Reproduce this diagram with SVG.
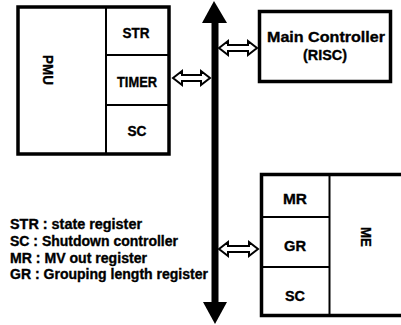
<svg xmlns="http://www.w3.org/2000/svg" width="401" height="325" viewBox="0 0 401 325">
<style>
text{font-family:"Liberation Sans",Arial,sans-serif;font-weight:bold;fill:#000;stroke:#000;stroke-width:0.35}
.box{fill:#fff;stroke:#000;stroke-width:3.5}
.div{stroke:#000;stroke-width:2;fill:none}
.cell{font-size:15px;text-anchor:middle}
.leg{font-size:14px}
.arr{fill:#fff;stroke:#000;stroke-width:2;stroke-linejoin:miter}
</style>
<rect width="401" height="325" fill="#fff"/>
<g id="connectors">
<line x1="215" y1="18" x2="215" y2="306" stroke="#000" stroke-width="7"/>
<polygon points="214,1 202,23 227,23" fill="#000"/>
<polygon points="215,324 203,302 227,302" fill="#000"/>
<polygon class="arr" points="173,78 182,71 182,75 201,75 201,71 210,78 201,85 201,81 182,81 182,85"/>
<polygon class="arr" points="219,48 228,41 228,45 248,45 248,41 257,48 248,55 248,51 228,51 228,55"/>
<polygon class="arr" points="219,249 228,242 228,246 249,246 249,242 258,249 249,256 249,252 228,252 228,256"/>
</g>
<g id="pmu">
<rect class="box" x="18" y="7" width="151" height="147"/>
<line class="div" x1="106" y1="7" x2="106" y2="154"/>
<line class="div" x1="106" y1="55" x2="169" y2="55"/>
<line class="div" x1="106" y1="105" x2="169" y2="105"/>
<text class="cell" transform="translate(43,70) rotate(90)" textLength="30" lengthAdjust="spacingAndGlyphs">PMU</text>
<text class="cell" x="136" y="38" textLength="27" lengthAdjust="spacingAndGlyphs">STR</text>
<text class="cell" x="137" y="87" textLength="40" lengthAdjust="spacingAndGlyphs">TIMER</text>
<text class="cell" x="137" y="136" textLength="19" lengthAdjust="spacingAndGlyphs">SC</text>
</g>
<g id="main-controller">
<rect class="box" x="259.5" y="11.5" width="131" height="70" stroke-width="3"/>
<text class="cell" x="326" y="42" textLength="118" lengthAdjust="spacingAndGlyphs">Main Controller</text>
<text class="cell" x="325" y="60" textLength="44" lengthAdjust="spacingAndGlyphs">(RISC)</text>
</g>
<g id="me">
<rect class="box" x="261.5" y="174.5" width="150" height="141" stroke-width="3"/>
<line class="div" x1="329.5" y1="174.5" x2="329.5" y2="315.5"/>
<line class="div" x1="261.5" y1="217" x2="329.5" y2="217"/>
<line class="div" x1="261.5" y1="267" x2="329.5" y2="267"/>
<text class="cell" x="295" y="204" textLength="24" lengthAdjust="spacingAndGlyphs">MR</text>
<text class="cell" x="295" y="251" textLength="22" lengthAdjust="spacingAndGlyphs">GR</text>
<text class="cell" x="295" y="301" textLength="20" lengthAdjust="spacingAndGlyphs">SC</text>
<text class="cell" transform="translate(361,237) rotate(90)" textLength="20" lengthAdjust="spacingAndGlyphs">ME</text>
</g>
<g id="legend">
<text class="leg" x="10" y="229" textLength="132" lengthAdjust="spacingAndGlyphs">STR : state register</text>
<text class="leg" x="10" y="246" textLength="168" lengthAdjust="spacingAndGlyphs">SC : Shutdown controller</text>
<text class="leg" x="10" y="263" textLength="137" lengthAdjust="spacingAndGlyphs">MR : MV out register</text>
<text class="leg" x="10" y="279" textLength="198" lengthAdjust="spacingAndGlyphs">GR : Grouping length register</text>
</g>
</svg>
